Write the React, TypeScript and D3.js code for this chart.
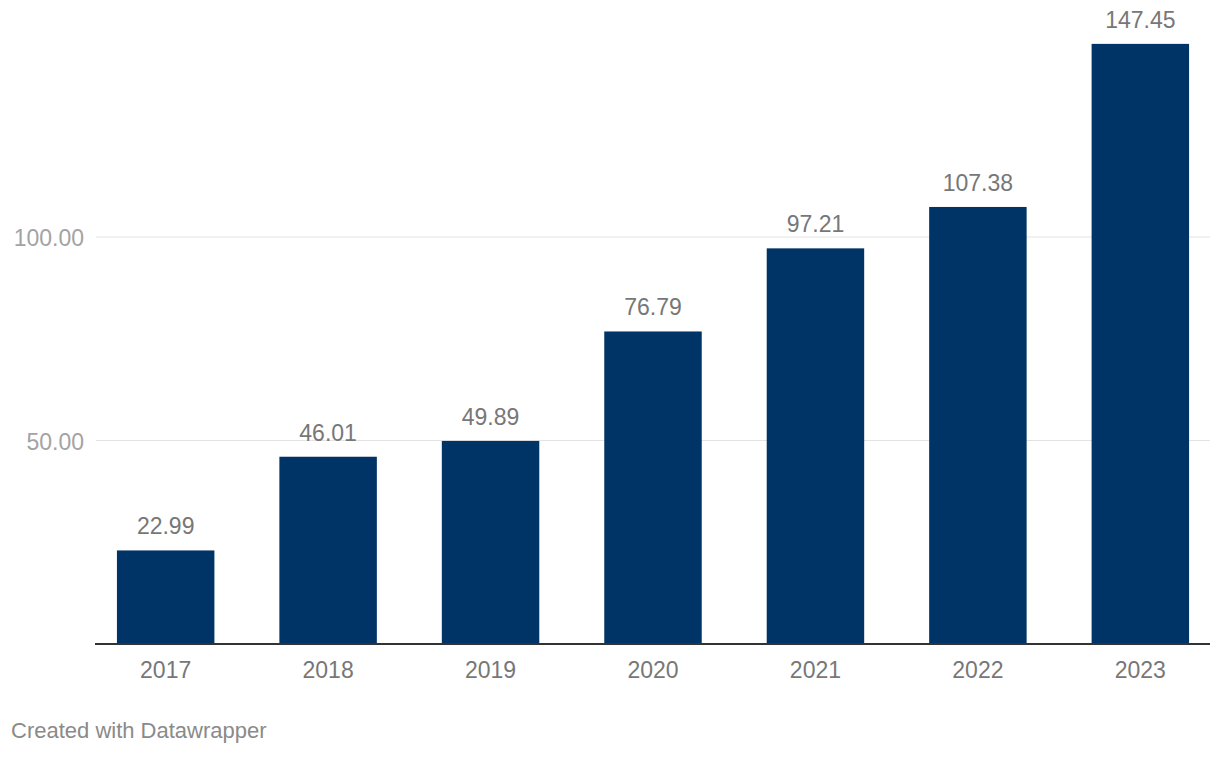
import React from "react";
import * as d3 from "d3";

const years = ["2017", "2018", "2019", "2020", "2021", "2022", "2023"];
const values = [22.99, 46.01, 49.89, 76.79, 97.21, 107.38, 147.45];
const yTicks = [50, 100];

const W = 1220;
const H = 758;
const FONT = "'Liberation Sans', Arial, Helvetica, sans-serif";

export default function App() {
  const x = d3
    .scaleBand<string>()
    .domain(years)
    .range([95, 1211])
    .paddingInner(0.4)
    .paddingOuter(0.135);
  const y = d3.scaleLinear().domain([0, 100]).range([644, 237]);

  return (
    <div style={{ position: "absolute", left: 0, top: 0, width: W, height: H, background: "#fff" }}>
      <svg width={W} height={H} style={{ display: "block", fontFamily: FONT }}>
        {yTicks.map((t) => (
          <g key={t}>
            <line x1={96} x2={1210} y1={y(t)} y2={y(t)} stroke="#e3e3e3" strokeWidth={1.2} />
            <text
              x={84}
              y={y(t) + 9}
              textAnchor="end"
              fontSize={23}
              fill="#a3a3a3"
            >
              {d3.format(".2f")(t)}
            </text>
          </g>
        ))}
        {years.map((yr, i) => (
          <g key={yr}>
            <rect
              x={x(yr)}
              y={y(values[i])}
              width={x.bandwidth()}
              height={y(0) - y(values[i])}
              fill="#003366"
            />
            <text
              x={(x(yr) as number) + x.bandwidth() / 2}
              y={y(values[i]) - 16}
              textAnchor="middle"
              fontSize={23}
              fill="#777777"
            >
              {d3.format(".2f")(values[i])}
            </text>
            <text
              x={(x(yr) as number) + x.bandwidth() / 2}
              y={678}
              textAnchor="middle"
              fontSize={23}
              fill="#777777"
            >
              {yr}
            </text>
          </g>
        ))}
        <line x1={95} x2={1210} y1={y(0)} y2={y(0)} stroke="#333333" strokeWidth={2} />
        <text x={11} y={738} fontSize={22} fill="#8a8a8a">
          Created with Datawrapper
        </text>
      </svg>
    </div>
  );
}
